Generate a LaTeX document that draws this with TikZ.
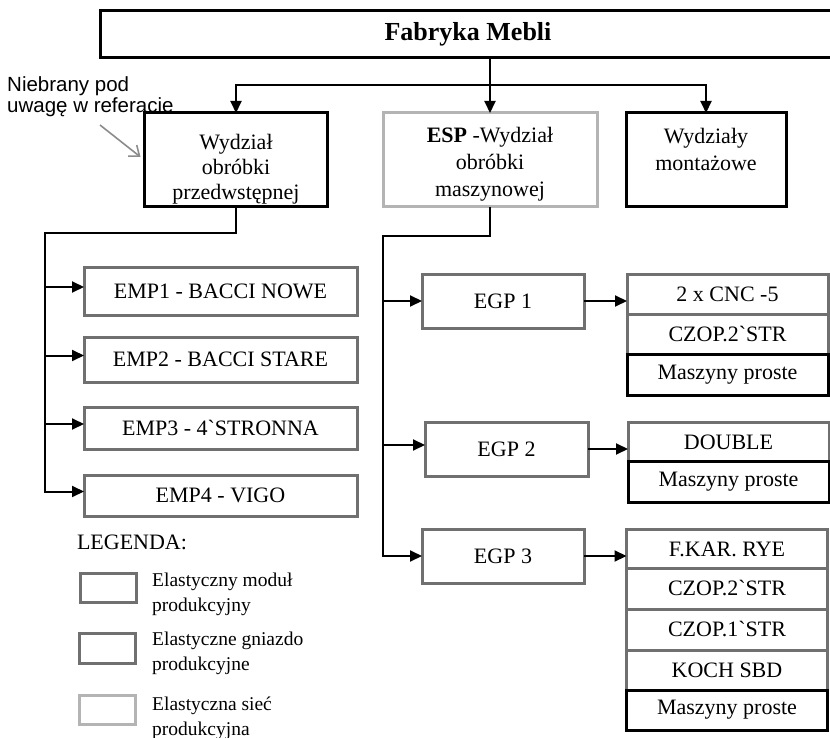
\documentclass[tikz,border=0pt]{standalone}
\usepackage{fontspec}
\setmainfont{Liberation Serif}
\newfontfamily\annfont{Liberation Sans}
\usetikzlibrary{arrows.meta,calc}
\definecolor{dgray}{HTML}{707070}
\definecolor{lgray}{HTML}{B4B4B4}
\definecolor{agray}{HTML}{8C8C8C}
\newcommand{\gr}{\textasciigrave}
\begin{document}
\begin{tikzpicture}[x=1pt,y=-1pt,
  txt/.style={font=\fontsize{22}{26}\selectfont, align=center, inner sep=0pt, outer sep=0pt},
  blackbox/.style={txt, draw=black, line width=3pt, fill=white},
  modbox/.style={txt, draw=dgray, line width=3pt, fill=white},
  siecbox/.style={txt, draw=lgray, line width=3pt, fill=white},
  conn/.style={line width=2pt, draw=black},
  arr/.style={conn, -{Triangle[length=12pt,width=11pt]}},
  grayarr/.style={draw=agray, line width=1.6pt, -{Straight Barb[length=9pt,width=14pt]}},
  legtxt/.style={font=\fontsize{19.5}{25}\selectfont, align=left, anchor=west, inner sep=0pt}
]
\useasboundingbox (0,0) rectangle (830,738);
\fill[white] (0,0) rectangle (830,738);

% top
\node[blackbox, minimum width=736pt, minimum height=47pt, font=\fontsize{26}{30}\selectfont\bfseries] (top) at (468,34.5) {Fabryka Mebli};

% departments
\node[blackbox, minimum width=183pt, minimum height=94pt, font=\fontsize{22}{25}\selectfont] (left) at (236,160) {\rule{0pt}{33pt}Wydział\\obróbki\\przedwstępnej};
\node[siecbox, minimum width=214pt, minimum height=94pt, font=\fontsize{22}{27}\selectfont] (mid) at (490,160) {\rule{0pt}{23pt}\textbf{ESP} -Wydział\\obróbki\\maszynowej};
\node[blackbox, minimum width=160pt, minimum height=94pt, font=\fontsize{22}{27}\selectfont] (right) at (706,160) {\rule{0pt}{29pt}Wydziały\\montażowe\\\strut};

\coordinate (j) at (491,85);
\draw[arr] (top.south -| mid.north) -- (mid.north);
\draw[arr] (j) -| (left.north);
\draw[arr] (j) -| (right.north);

% annotation
\node[font=\annfont\fontsize{20.5}{21}\selectfont, align=left, anchor=north west, inner sep=0pt] (ann) at (7,76) {Niebrany pod\\uwagę w referacie};
\coordinate (annstart) at (100,125);
\draw[grayarr] (annstart) -- ($(left.west)+(-4,-3)$);

% EMP boxes
\node[modbox, minimum width=273pt, minimum height=48pt] (emp1) at (220.5,291) {EMP1 - BACCI NOWE};
\node[modbox, minimum width=273pt, minimum height=45pt] (emp2) at (220.5,359.5) {EMP2 - BACCI STARE};
\node[modbox, minimum width=273pt, minimum height=42pt] (emp3) at (220.5,428) {EMP3 - 4\gr STRONNA};
\node[modbox, minimum width=273pt, minimum height=41pt] (emp4) at (220.5,495.5) {EMP4 - VIGO};
\coordinate (e1) at ([yshift=4pt]emp1.west);
\coordinate (e2) at ([yshift=4pt]emp2.west);
\coordinate (e3) at ([yshift=4pt]emp3.west);
\coordinate (e4) at ([yshift=4pt]emp4.west);

\coordinate (lb) at (45,233);
\draw[arr] (left.south) |- (lb) |- (e4);
\draw[arr] (lb |- e1) -- (e1);
\draw[arr] (lb |- e2) -- (e2);
\draw[arr] (lb |- e3) -- (e3);

% EGP boxes
\node[modbox, minimum width=162pt, minimum height=54pt] (egp1) at (503,301) {EGP 1};
\node[modbox, minimum width=163pt, minimum height=54pt] (egp2) at (506.5,449) {EGP 2};
\node[modbox, minimum width=162pt, minimum height=54pt] (egp3) at (503,556) {EGP 3};
\coordinate (g2) at ([yshift=4pt]egp2.west);

\coordinate (mb) at (383,236);
\draw[arr] (mid.south) |- (mb) |- (egp3.west);
\draw[arr] (mb |- egp1.west) -- (egp1.west);
\draw[arr] (mb |- g2) -- (g2);

% machine stacks
\node[modbox, minimum width=201pt, minimum height=40pt] (r11) at (727.5,294) {2 x CNC -5};
\node[modbox, minimum width=201pt, minimum height=40pt] (r12) at (727.5,334) {CZOP.2\gr STR};
\node[blackbox, minimum width=201pt, minimum height=41pt] (r13) at (727.5,374.5) {Maszyny proste};

\node[modbox, minimum width=201pt, minimum height=39pt] (r21) at (728.5,442) {DOUBLE};
\node[blackbox, minimum width=201pt, minimum height=41pt] (r22) at (728.5,481.5) {Maszyny proste};

\node[modbox, minimum width=201pt, minimum height=39pt] (r31) at (727,549) {F.KAR. RYE};
\node[modbox, minimum width=201pt, minimum height=41pt] (r32) at (727,588.5) {CZOP.2\gr STR};
\node[modbox, minimum width=201pt, minimum height=41pt] (r33) at (727,629.5) {CZOP.1\gr STR};
\node[modbox, minimum width=201pt, minimum height=40pt] (r34) at (727,670) {KOCH SBD};
\node[blackbox, minimum width=201pt, minimum height=40pt] (r35) at (727,710) {Maszyny proste};

\draw[arr] (egp1.east) -- (egp1.east -| r11.west);
\draw[arr] (egp2.east) -- (egp2.east -| r21.west);
\draw[arr] (egp3.east) -- (egp3.east -| r31.west);

% legend
\node[txt, anchor=west] (leg) at (77,542) {LEGENDA:};
\node[modbox, minimum width=56pt, minimum height=29pt] (lb1) at (108,587.5) {};
\node[modbox, minimum width=56pt, minimum height=30pt] (lb2) at (107,648) {};
\node[siecbox, minimum width=56pt, minimum height=29pt] (lb3) at (107,709.5) {};
\node[legtxt] (lt1) at (152,594) {Elastyczny moduł\\produkcyjny};
\node[legtxt] (lt2) at (152,653.5) {Elastyczne gniazdo\\produkcyjne};
\node[legtxt] (lt3) at (152,718) {Elastyczna sieć\\produkcyjna};
\end{tikzpicture}
\end{document}
